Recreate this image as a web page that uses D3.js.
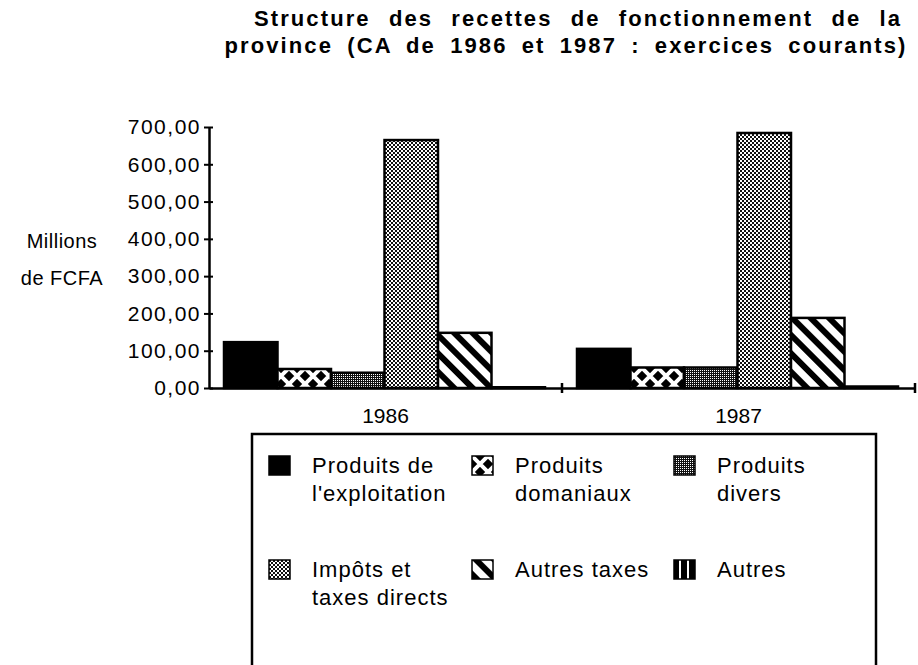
<!DOCTYPE html>
<html>
<head>
<meta charset="utf-8">
<script src="https://cdn.jsdelivr.net/npm/d3@7"></script>
<style>
  body { margin: 0; background: #fff; }
  svg { display: block; font-family: "Liberation Sans", Arial, Helvetica, sans-serif; }
</style>
</head>
<body>
<svg width="918" height="665"></svg>
<script>
const years = ["1986", "1987"];
const categories = ["Produits de l'exploitation", "Produits domaniaux", "Produits divers",
                    "Impôts et taxes directs", "Autres taxes", "Autres"];
const legendLines = [["Produits de", "l'exploitation"], ["Produits", "domaniaux"], ["Produits", "divers"],
                     ["Impôts et", "taxes directs"], ["Autres taxes"], ["Autres"]];
const values1986 = [123, 51, 41, 665, 148, 2];
const values1987 = [105, 55, 55, 684, 188, 4];
const yTicks = [0, 100, 200, 300, 400, 500, 600, 700];
const titleLines = ["Structure des recettes de fonctionnement de la",
                    "province (CA de 1986 et 1987 : exercices courants)"];
const yLabel = ["Millions", "de FCFA"];

const data = years.map((yr, j) => ({
  year: yr,
  values: categories.map((c, i) => ({cat: c, idx: i, v: (j === 0 ? values1986 : values1987)[i]}))
}));

const svg = d3.select("svg");

// fill patterns (black & white print style)
const defs = svg.append("defs");
function pattern(id, w, h, attrs) {
  const p = defs.append("pattern").attr("id", id)
    .attr("patternUnits", "userSpaceOnUse").attr("width", w).attr("height", h);
  if (attrs) p.attr("patternTransform", attrs);
  return p;
}
// domaniaux: white crosses on black
let p = pattern("pat1", 16, 16);
p.append("rect").attr("width", 16).attr("height", 16).attr("fill", "#000");
p.append("path").attr("d", "M1,1L15,15M15,1L1,15").attr("stroke", "#fff").attr("stroke-width", 4)
  .attr("stroke-linecap", "round");
// divers: dense dark dots
p = pattern("pat2", 4, 4);
p.append("rect").attr("width", 4).attr("height", 4).attr("fill", "#111");
[[0, 0], [2, 2], [2, 0], [0, 2]].forEach(([a, b]) =>
  p.append("rect").attr("x", a).attr("y", b).attr("width", 1).attr("height", 1).attr("fill", "#fff"));
// impots: checker
p = pattern("pat3", 4, 4);
p.append("rect").attr("width", 4).attr("height", 4).attr("fill", "#fff");
p.append("rect").attr("width", 2).attr("height", 2).attr("fill", "#111");
p.append("rect").attr("x", 2).attr("y", 2).attr("width", 2).attr("height", 2).attr("fill", "#111");
// autres taxes: diagonal stripes
p = pattern("pat4", 13, 13, "rotate(-45)");
p.append("rect").attr("width", 13).attr("height", 13).attr("fill", "#fff");
p.append("rect").attr("width", 6).attr("height", 13).attr("fill", "#000");
// autres: vertical stripes
p = pattern("pat5", 8, 8);
p.append("rect").attr("width", 8).attr("height", 8).attr("fill", "#000");
p.append("rect").attr("x", 5).attr("width", 2).attr("height", 8).attr("fill", "#fff");

const fills = ["#000", "url(#pat1)", "url(#pat2)", "url(#pat3)", "url(#pat4)", "url(#pat5)"];

// title (two justified lines)
svg.append("g").selectAll("text").data(titleLines).join("text")
  .attr("x", (d, i) => i === 0 ? 578 : 566)
  .attr("y", (d, i) => i === 0 ? 26 : 53)
  .attr("text-anchor", "middle")
  .attr("font-size", 22).attr("font-weight", "bold")
  .attr("letter-spacing", 2.1).attr("word-spacing", (d, i) => i === 0 ? 10 : 6)
  .text(d => d);

// scales
const x0 = d3.scaleBand().domain(years).range([209, 915]);
const x1 = d3.scaleBand().domain(categories).range([15, 336]);
const y = d3.scaleLinear().domain([0, 700]).range([388, 127]);

const fmt = d => d3.format(".2f")(d).replace(".", ",");

// bars
const groups = svg.append("g").selectAll("g").data(data).join("g")
  .attr("transform", d => `translate(${x0(d.year)},0)`);
groups.selectAll("rect").data(d => d.values).join("rect")
  .attr("x", d => x1(d.cat))
  .attr("y", d => y(d.v))
  .attr("width", x1.bandwidth())
  .attr("height", d => y(0) - y(d.v))
  .attr("fill", d => fills[d.idx])
  .attr("stroke", "#000").attr("stroke-width", 2.5);

// y axis
const yAxis = svg.append("g").attr("transform", "translate(209,0)")
  .call(d3.axisLeft(y).tickValues(yTicks).tickFormat(fmt).tickSizeInner(5).tickSizeOuter(0).tickPadding(3));
yAxis.select(".domain").attr("stroke-width", 2.5);
yAxis.selectAll(".tick line").attr("x1", 4).attr("x2", -5).attr("stroke-width", 2);
yAxis.selectAll(".tick text").attr("font-size", 21).attr("letter-spacing", 1.5).attr("fill", "#000")
  .attr("font-family", "Liberation Sans, Arial, sans-serif");

// x axis
const xAxis = svg.append("g").attr("transform", `translate(0,${y(0)})`)
  .call(d3.axisBottom(x0).tickSize(0).tickPadding(20));
xAxis.select(".domain").attr("stroke-width", 2.5);
xAxis.selectAll(".tick text").attr("font-size", 21).attr("fill", "#000")
  .attr("font-family", "Liberation Sans, Arial, sans-serif");
xAxis.selectAll(".edge").data(years).join("line").attr("class", "edge")
  .attr("x1", d => x0(d) + x0.bandwidth()).attr("x2", d => x0(d) + x0.bandwidth())
  .attr("y1", -5).attr("y2", 5).attr("stroke", "#000").attr("stroke-width", 2.5);

// y label
svg.append("g").selectAll("text").data(yLabel).join("text")
  .attr("x", 62).attr("y", (d, i) => 248 + i * 37)
  .attr("text-anchor", "middle").attr("font-size", 20).attr("letter-spacing", 0.5)
  .text(d => d);

// legend
svg.append("rect").attr("x", 252).attr("y", 434).attr("width", 624).attr("height", 260)
  .attr("fill", "none").attr("stroke", "#000").attr("stroke-width", 2.5);
const colX = [269, 472, 674];
const rowY = [456, 560];
const leg = svg.append("g").selectAll("g").data(categories).join("g")
  .attr("transform", (d, i) => `translate(${colX[i % 3]},${rowY[Math.floor(i / 3)]})`);
leg.append("rect").attr("width", 21).attr("height", 19)
  .attr("fill", (d, i) => fills[i]).attr("stroke", "#000").attr("stroke-width", 1.5);
leg.append("text").attr("font-size", 22).attr("letter-spacing", 1)
  .selectAll("tspan").data((d, i) => legendLines[i]).join("tspan")
  .attr("x", 43).attr("y", (d, k) => 17 + k * 28)
  .text(d => d);
</script>
</body>
</html>
